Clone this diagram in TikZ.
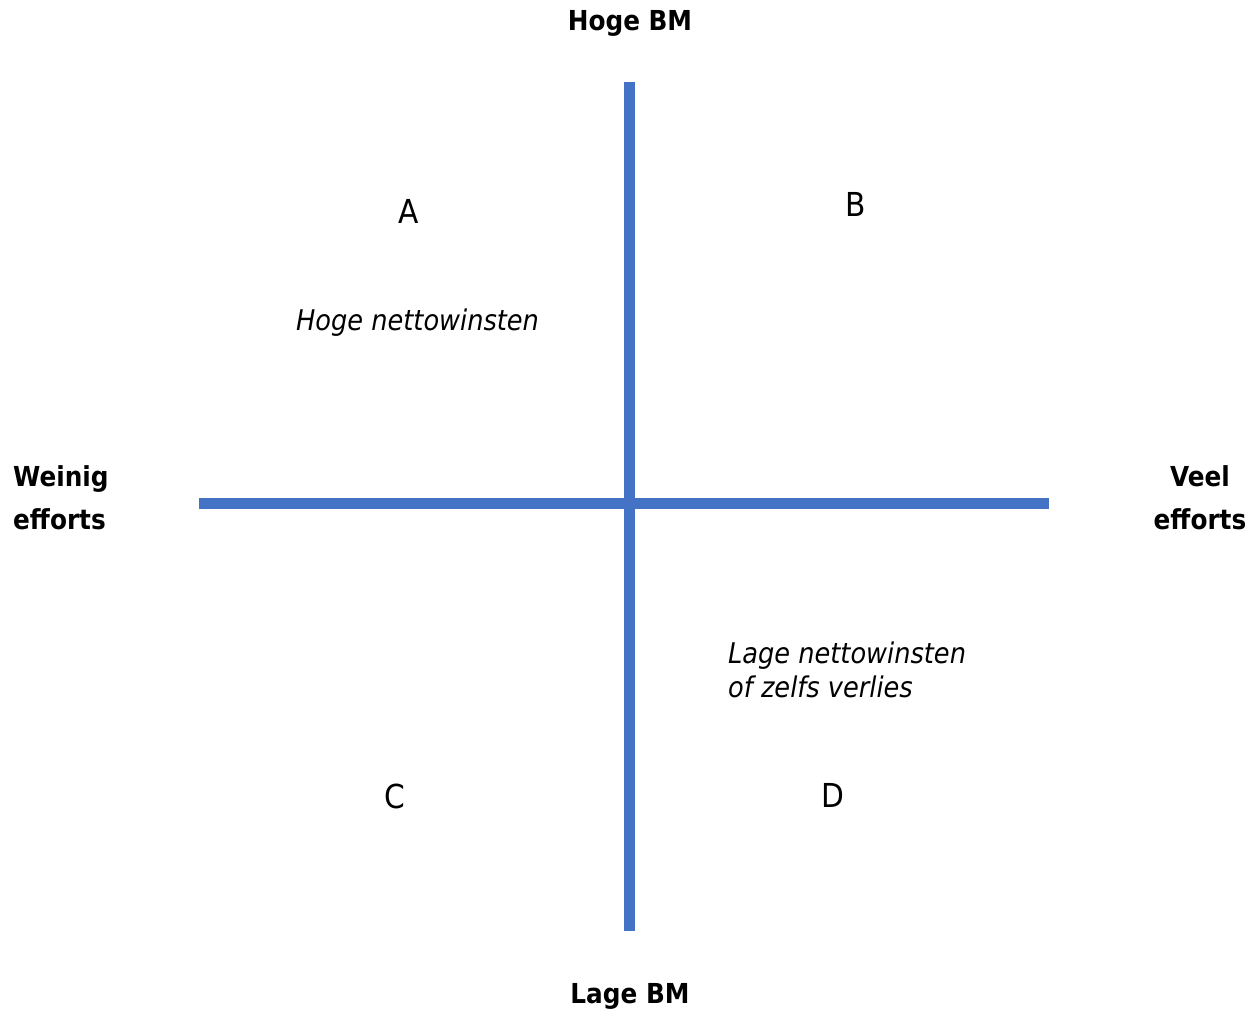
\documentclass[tikz,border=0pt]{standalone}
\usepackage{fontspec}
\setmainfont{DejaVu Sans Condensed}
\definecolor{axisblue}{HTML}{4472C4}
\begin{document}
\begin{tikzpicture}[x=1pt,y=-1pt,
  axis/.style={draw=axisblue,line width=11pt},
  lbl/.style={font=\fontsize{27.5}{43}\selectfont\bfseries,inner sep=0pt,anchor=center},
  quad/.style={font=\fontsize{33}{34}\selectfont,inner sep=0pt,anchor=center},
  note/.style={font=\fontsize{28.5}{34}\selectfont\itshape,inner sep=0pt}]
\useasboundingbox (0,0) rectangle (1256,1010);
\coordinate (vt) at (629,82);
\coordinate (vb) at (629,931);
\coordinate (hl) at (199,503);
\coordinate (hr) at (1049,503);
\draw[axis] (vt) -- (vb);
\draw[axis] (hl) -- (hr);
\node[lbl] (top) at (630,23) {Hoge BM};
\node[lbl] (bot) at (630,996) {Lage BM};
\node[lbl,anchor=west,align=left] (left) at (13,498) {Weinig\\efforts};
\node[lbl,align=center] (right) at (1200,498) {Veel\\efforts};
\node[quad] (A) at (409,211) {A};
\node[quad] (B) at (856,204) {B};
\node[quad] (C) at (395,796) {C};
\node[quad] (D) at (833,795) {D};
\node[note,anchor=west] (n1) at (296,323) {Hoge nettowinsten};
\node[note,anchor=west,align=left] (n2) at (728,670) {Lage nettowinsten\\of zelfs verlies};
\end{tikzpicture}
\end{document}
